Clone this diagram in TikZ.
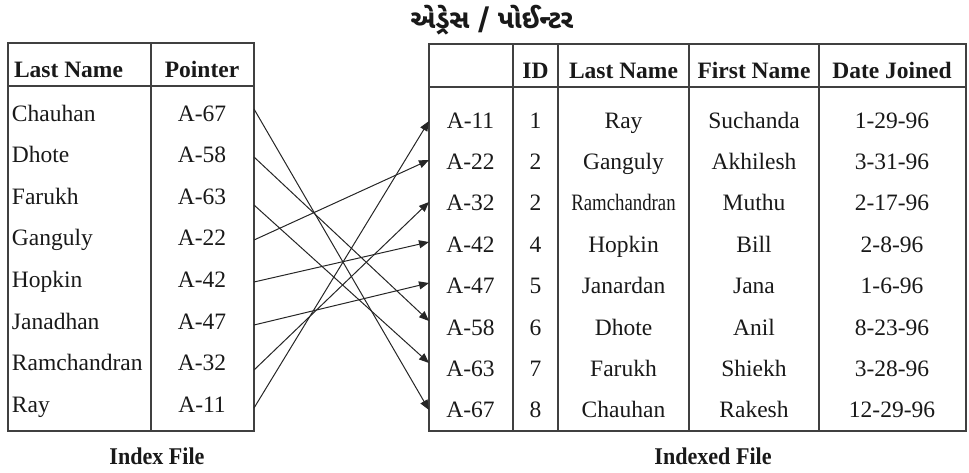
\documentclass[tikz,border=0pt]{standalone}
\usepackage{fontspec}
\setmainfont{Liberation Serif}
\newfontfamily\gujfont[Script=Gujarati]{Noto Sans Gujarati UI}
\usetikzlibrary{arrows.meta}

\begin{document}
\begin{tikzpicture}[x=1pt,y=-1pt,
  every node/.style={inner sep=0pt,outer sep=0pt,font=\fontsize{23.5}{26}\selectfont,text=black!90},
  grid/.style={draw=black!75,line width=1.2pt},
  head/.style={font=\fontsize{23.5}{26}\selectfont\bfseries,anchor=base},
  cellL/.style={anchor=base west},
  cellC/.style={anchor=base},
  caption/.style={font=\fontsize{24}{26}\selectfont\bfseries,anchor=base},
  ptr/.style={draw=black!85,line width=1pt,-{Triangle[length=10pt,width=8pt]}}]

\useasboundingbox (0,0) rectangle (969,472);

% title
\node[anchor=base,font=\gujfont\fontsize{26}{30}\selectfont\bfseries] (title) at (492,28) {એડ્રેસ / પોઈન્ટર};

% index file frame
\draw[grid] (8,43) rectangle (254,431);
\draw[grid] (8,86) -- (254,86);
\draw[grid] (151,43) -- (151,431);
\node[head,anchor=base west] (hLast) at (14,77) {Last Name};
\node[head] (hPtr) at (202,77) {Pointer};

% indexed file frame
\draw[grid] (429,44) rectangle (966,431);
\draw[grid] (429,87) -- (966,87);
\foreach \xx in {513,558,689,819} \draw[grid] (\xx,44) -- (\xx,431);
\node[head] (hID) at (535.5,78) {ID};
\node[head] (hLN) at (623.5,78) {Last Name};
\node[head] (hFN) at (754,78) {First Name};
\node[head] (hDJ) at (892,78) {Date Joined};

% index rows; the pointer leaves the right edge at height \sy
\foreach \i/\nm/\p/\sy in {1/Chauhan/A-67/109,2/Dhote/A-58/157,3/Farukh/A-63/205,
                       4/Ganguly/A-22/240,5/Hopkin/A-42/282,6/Janadhan/A-47/325,
                       7/Ramchandran/A-32/370,8/Ray/A-11/408}{
  \pgfmathsetmacro\ry{113+41.6*(\i-1)}
  \node[cellL] (in\i) at (12,\ry+8) {\nm};
  \node[cellC] (ip\i) at (202,\ry+8) {\p};
  \coordinate (src\i) at (254,\sy);
}

% indexed rows; \ty is where the pointer arrives
\foreach \i/\a/\id/\ln/\fn/\dj/\ty in {1/A-11/1/Ray/Suchanda/1-29-96/121,
    2/A-22/2/Ganguly/Akhilesh/3-31-96/160,
    3/A-32/2/{\scalebox{0.8}[1]{Ramchandran}}/Muthu/2-17-96/202,
    4/A-42/4/Hopkin/Bill/2-8-96/242,
    5/A-47/5/Janardan/Jana/1-6-96/283,
    6/A-58/6/Dhote/Anil/8-23-96/321,
    7/A-63/7/Farukh/Shiekh/3-28-96/363,
    8/A-67/8/Chauhan/Rakesh/12-29-96/410}{
  \pgfmathsetmacro\ry{120+41.4*(\i-1)}
  \node[cellC] (ra\i) at (470.5,\ry+8) {\a};
  \node[cellC] (rid\i) at (535.5,\ry+8) {\id};
  \node[cellC] (rln\i) at (623.5,\ry+8) {\ln};
  \node[cellC] (rfn\i) at (754,\ry+8) {\fn};
  \node[cellC] (rdj\i) at (892,\ry+8) {\dj};
  \coordinate (dst\i) at (429,\ty);
}

% pointers
\draw[ptr] (src1) -- (dst8);
\draw[ptr] (src2) -- (dst6);
\draw[ptr] (src3) -- (dst7);
\draw[ptr] (src4) -- (dst2);
\draw[ptr] (src5) -- (dst4);
\draw[ptr] (src6) -- (dst5);
\draw[ptr] (src7) -- (dst3);
\draw[ptr] (src8) -- (dst1);

% captions
\node[caption] (capL) at (157,464) {\scalebox{0.92}[1]{Index File}};
\node[caption] (capR) at (713,464) {\scalebox{0.92}[1]{Indexed File}};
\end{tikzpicture}
\end{document}
